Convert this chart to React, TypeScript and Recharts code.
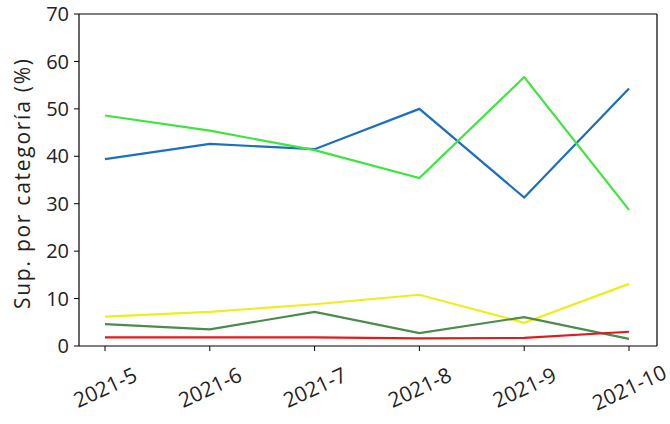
import React from 'react';
import { LineChart, Line, XAxis, YAxis } from 'recharts';

const months = ['2021-5', '2021-6', '2021-7', '2021-8', '2021-9', '2021-10'];
const serieAzul = [39.4, 42.6, 41.5, 50.0, 31.3, 54.3];
const serieVerde = [48.6, 45.4, 41.3, 35.4, 56.7, 28.7];
const serieAmarilla = [6.2, 7.2, 8.8, 10.8, 4.9, 13.1];
const serieVerdeOscuro = [4.6, 3.5, 7.2, 2.7, 6.1, 1.5];
const serieRoja = [1.8, 1.8, 1.8, 1.6, 1.7, 3.0];
const yTicks = [0, 10, 20, 30, 40, 50, 60, 70];

const data = months.map((m, i) => ({
  month: m,
  azul: serieAzul[i],
  verde: serieVerde[i],
  amarilla: serieAmarilla[i],
  verdeOscuro: serieVerdeOscuro[i],
  roja: serieRoja[i],
}));

const FONT = '"Open Sans", "Noto Sans", sans-serif';
const PAD = { left: 26, right: 28 };

// rotated month labels, centred under the tick like matplotlib rotation=25
const MonthTick = (props: any) => {
  const { x, y, payload } = props;
  const cy = y + 34;
  return (
    <text
      x={x}
      y={cy}
      textAnchor="middle"
      dominantBaseline="central"
      transform={`rotate(-25, ${x}, ${cy})`}
      fill="#222"
      fontSize={21}
      fontFamily={FONT}
    >
      {payload.value}
    </text>
  );
};

const YTitle = (props: any) => {
  const vb = props.viewBox || { x: 0, y: 14, width: 79, height: 332 };
  const cx = 22;
  const cy = vb.y + vb.height / 2 + 4;
  return (
    <text
      x={cx}
      y={cy}
      textAnchor="middle"
      dominantBaseline="central"
      transform={`rotate(-90, ${cx}, ${cy})`}
      fill="#222"
      fontSize={21}
      fontFamily={FONT}
      textLength={250}
      lengthAdjust="spacing"
    >
      Sup. por categoría (%)
    </text>
  );
};

export default function App() {
  return (
    <div style={{ width: 670, height: 424, background: '#fff' }}>
      <style>{'body{margin:0}'}</style>
      <LineChart
        width={670}
        height={424}
        data={data}
        margin={{ top: 13, right: 12, bottom: 0, left: 0 }}
        style={{ fontFamily: FONT }}
      >
        <XAxis
          dataKey="month"
          type="category"
          height={78}
          padding={PAD}
          axisLine={{ stroke: '#000', strokeWidth: 1.2 }}
          tickLine={{ stroke: '#000' }}
          tickSize={5}
          tick={<MonthTick />}
          interval={0}
        />
        <XAxis
          xAxisId="top"
          dataKey="month"
          type="category"
          orientation="top"
          height={1}
          padding={PAD}
          tick={false}
          tickLine={false}
          axisLine={{ stroke: '#000', strokeWidth: 1.2 }}
        />
        <YAxis
          domain={[0, 70]}
          ticks={yTicks}
          width={79}
          axisLine={{ stroke: '#000', strokeWidth: 1.2 }}
          tickLine={{ stroke: '#000' }}
          tickSize={5}
          tickMargin={5}
          tick={{ fill: '#222', fontSize: 20, fontFamily: FONT }}
          label={<YTitle />}
        />
        <YAxis
          yAxisId="right"
          orientation="right"
          domain={[0, 70]}
          ticks={yTicks}
          width={1}
          tick={false}
          tickLine={false}
          axisLine={{ stroke: '#000', strokeWidth: 1.2 }}
        />
        <Line type="linear" dataKey="azul" stroke="#1b6ec2" strokeWidth={2.2} dot={false} isAnimationActive={false} />
        <Line type="linear" dataKey="verde" stroke="#3de63d" strokeWidth={2.2} dot={false} isAnimationActive={false} />
        <Line type="linear" dataKey="amarilla" stroke="#eeee1c" strokeWidth={2.2} dot={false} isAnimationActive={false} />
        <Line type="linear" dataKey="verdeOscuro" stroke="#4b8b4b" strokeWidth={2.2} dot={false} isAnimationActive={false} />
        <Line
          type="linear"
          dataKey="roja"
          xAxisId="top"
          yAxisId="right"
          stroke="#e41a1a"
          strokeWidth={2.2}
          dot={false}
          isAnimationActive={false}
        />
      </LineChart>
    </div>
  );
}
